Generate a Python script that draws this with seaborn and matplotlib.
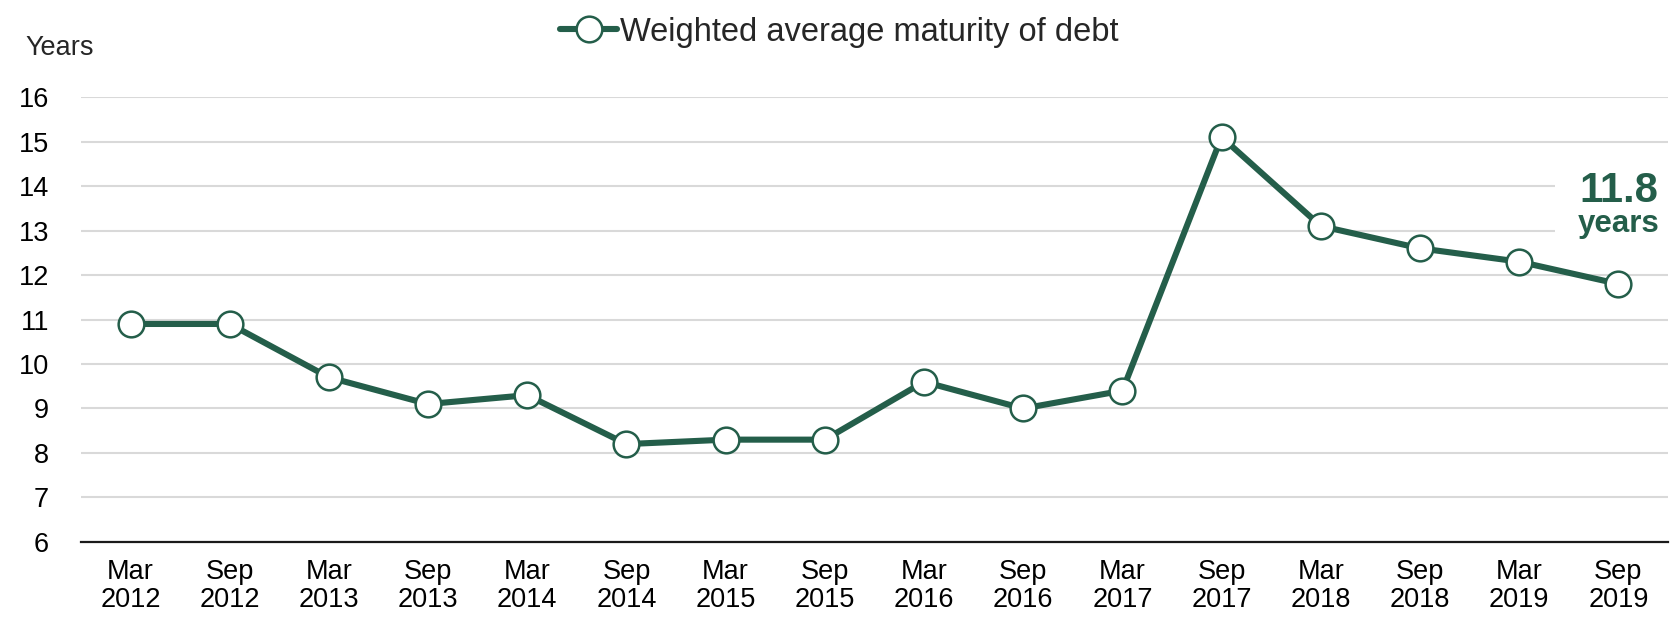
import matplotlib
matplotlib.use("Agg")
import matplotlib.pyplot as plt
import seaborn as sns
import pandas as pd
from matplotlib.lines import Line2D
from matplotlib.patches import Rectangle

periods = ["Mar\n2012", "Sep\n2012", "Mar\n2013", "Sep\n2013", "Mar\n2014", "Sep\n2014",
           "Mar\n2015", "Sep\n2015", "Mar\n2016", "Sep\n2016", "Mar\n2017", "Sep\n2017",
           "Mar\n2018", "Sep\n2018", "Mar\n2019", "Sep\n2019"]
maturity = [10.9, 10.9, 9.7, 9.1, 9.3, 8.2, 8.3, 8.3, 9.6, 9.0, 9.4, 15.1, 13.1, 12.6, 12.3, 11.8]
series_name = "Weighted average maturity of debt"
y_ticks = [6, 7, 8, 9, 10, 11, 12, 13, 14, 15, 16]
annot_value = "11.8"
annot_unit = "years"
y_label = "Years"

GREEN = "#245E4A"
LW = 4.4
MS = 18.5
MEW = 1.8

sns.set_theme(style="white")
plt.rcParams["font.family"] = ["Liberation Sans", "DejaVu Sans"]

df = pd.DataFrame({"period": periods, "value": maturity, "series": series_name})
x_pos = list(range(len(periods)))
df["x"] = x_pos

fig = plt.figure(figsize=(16.79, 6.18), dpi=100)
ax = fig.add_axes([0.0482, 0.123, 0.9452, 0.720])

sns.lineplot(data=df, x="x", y="value", hue="series", palette=[GREEN], ax=ax,
             linewidth=LW, marker="o", markersize=MS, markerfacecolor="white",
             markeredgecolor=GREEN, markeredgewidth=MEW, sort=False, zorder=5,
             legend=False)

ax.set_xlim(-0.5, len(periods) - 0.5)
ax.set_ylim(6, 16)
ax.set_yticks(y_ticks)
ax.set_xticks(x_pos)
ax.set_xticklabels(periods, linespacing=1.1)
ax.grid(axis="y", color="#D9D9D9", linewidth=1.5, zorder=0)
ax.set_axisbelow(True)
for s in ["left", "right", "top"]:
    ax.spines[s].set_visible(False)
ax.spines["bottom"].set_color("#1a1a1a")
ax.spines["bottom"].set_linewidth(1.6)
ax.tick_params(axis="x", length=0, pad=12, labelsize=19.5, colors="black")
ax.tick_params(axis="y", length=0, pad=23, labelsize=19.5, colors="black")
ax.set_xlabel("")
ax.set_ylabel("")

fig.text(25 / 1679, 1 - 48 / 618, y_label, fontsize=19.5, ha="left", va="center")

# white backing behind the end-of-line annotation (hides gridlines)
ax.add_patch(Rectangle((0.929, 0.675), 0.08, 0.17, transform=ax.transAxes,
                       facecolor="white", edgecolor="none", zorder=3, clip_on=False))
ax.text(15, 13.64, annot_value, fontsize=30, fontweight="bold", color=GREEN,
        ha="center", va="baseline", zorder=4)
ax.text(15, 12.97, annot_unit, fontsize=22.5, fontweight="bold", color=GREEN,
        ha="center", va="baseline", zorder=4)

handle = Line2D([], [], color=GREEN, linewidth=LW, marker="o", markersize=MS,
                markerfacecolor="white", markeredgecolor=GREEN, markeredgewidth=MEW)
fig.legend([handle], [series_name], loc="center", bbox_to_anchor=(0.5, 1 - 32 / 618),
           frameon=False, fontsize=23.5, handlelength=1.75, handletextpad=0.1,
           borderaxespad=0)

fig.savefig("out.png", dpi=100, facecolor="white")
